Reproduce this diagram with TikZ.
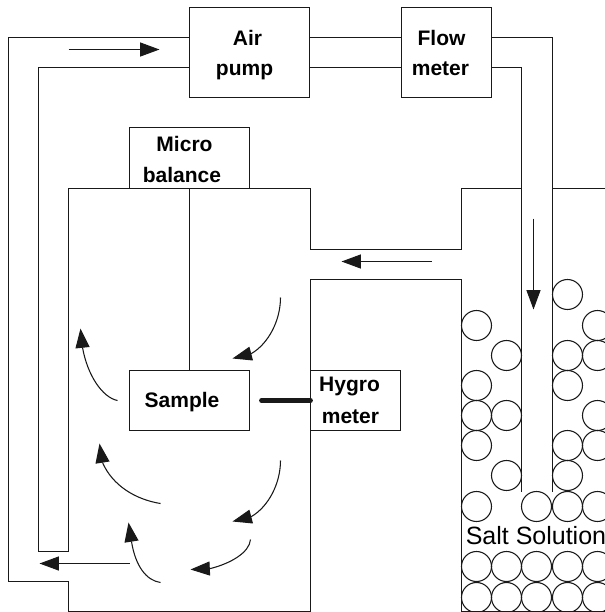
\documentclass[tikz,border=0pt]{standalone}
\usepackage{fontspec}
\setmainfont{Liberation Sans}
\usetikzlibrary{arrows.meta}
\definecolor{ink}{gray}{0.1}
\tikzset{
  x=0.75pt,y=-0.75pt,
  wall/.style={draw=ink,line width=0.8pt,line join=miter},
  boxnode/.style={draw=ink,line width=0.8pt,fill=white,inner sep=0pt,outer sep=0pt,anchor=north west},
  lab/.style={font=\fontsize{15.75pt}{18pt}\selectfont\bfseries,text=black,inner sep=0pt,anchor=base},
  flow/.style={draw=ink,line width=0.8pt,-{Triangle[length=14.5pt,width=10.5pt,fill=ink]}},
  bead/.style={circle,draw=ink,line width=0.8pt,minimum size=22.5pt,inner sep=0pt},
}
\begin{document}
\begin{tikzpicture}
\useasboundingbox (0,0) rectangle (605,612);
\begin{scope}
\clip (0,0) rectangle (605,612);
\begin{scope}[shift={(0.5,0.5)}]
% beads
\foreach \yy/\xs in {294/{567},325/{476,597},355/{506,567,597},385/{476,567},415/{476,506,597},445/{476,567,597},475/{506,567},506/{476,536,567,597},566/{476,506,536,567,597},597/{476,506,536,567,597}}{
  \foreach \xx in \xs { \node[bead] (b\xx-\yy) at (\xx,\yy) {}; }
}
% named points of the pipework
\coordinate (outerA) at (8,37);
\coordinate (outerB) at (8,581);
\coordinate (outerC) at (68,581);
\coordinate (outerD) at (68,611);
\coordinate (outerE) at (310,611);
\coordinate (outerF) at (310,279);
\coordinate (outerG) at (461,279);
\coordinate (outerH) at (461,611);
\coordinate (outerI) at (605,611);
\coordinate (innerA) at (38,67);
\coordinate (innerB) at (38,551);
\coordinate (innerC) at (68,551);
\coordinate (innerD) at (68,188);
\coordinate (innerE) at (310,188);
\coordinate (innerF) at (310,249);
\coordinate (innerG) at (461,249);
\coordinate (innerH) at (461,188);
\coordinate (innerI) at (521,188);
\coordinate (tubeLT) at (521,67);
\coordinate (tubeLB) at (521,491);
\coordinate (tubeRT) at (552,37);
\coordinate (tubeRB) at (552,491);
\coordinate (tubeRM) at (552,188);
\coordinate (rightM) at (605,188);
% boxes
\node[boxnode,minimum width=90pt,minimum height=67.5pt] (air) at (189,7) {};
\node[boxnode,minimum width=67.5pt,minimum height=67.5pt] (flowm) at (401,7) {};
\node[boxnode,minimum width=90pt,minimum height=45.75pt] (micro) at (129,127) {};
\node[boxnode,minimum width=90pt,minimum height=45pt] (sample) at (129,370) {};
\node[boxnode,minimum width=67.5pt,minimum height=45pt] (hygro) at (310,370) {};
% pipes
\draw[wall] (air.west |- outerA) -- (outerA) -- (outerB) -- (outerC) -- (outerD) -- (outerE) -- (outerF) -- (outerG) -- (outerH) -- (outerI);
\draw[wall] (air.west |- innerA) -- (innerA) -- (innerB) -- (innerC) -- (innerD) -- (innerE) -- (innerF) -- (innerG) -- (innerH) -- (innerI);
\draw[wall] (air.east |- outerA) -- (flowm.west |- outerA);
\draw[wall] (air.east |- innerA) -- (flowm.west |- innerA);
\draw[wall] (flowm.east |- tubeRT) -- (tubeRT) -- (tubeRB);
\draw[wall] (flowm.east |- tubeLT) -- (tubeLT) -- (tubeLB);
\draw[wall] (tubeRM) -- (rightM);
% balance rod and probe
\draw[wall] (micro.south) -- (sample.north);
\coordinate (probe) at (261,400);
\draw[draw=ink,line width=3.6pt,line cap=round] (probe) -- (hygro.west |- probe);
% labels
\node[lab] (t1) at (247,45) {Air};
\node[lab] (t2) at (244,75) {pump};
\node[lab] (t3) at (441,45) {Flow};
\node[lab] (t4) at (440,75) {meter};
\node[lab] (t5) at (184,151) {Micro};
\node[lab] (t6) at (181.5,181.5) {balance};
\node[lab] (t7) at (181.5,407) {Sample};
\node[lab] (t8) at (349,391) {Hygro};
\node[lab] (t9) at (350,422.5) {meter};
\node[font=\fontsize{18.75pt}{22pt}\selectfont,text=black,inner sep=0pt,anchor=base west] (salt) at (465,544) {Salt Solution};
% flow arrows
\coordinate (a1) at (68,49);   \coordinate (a2) at (159,49);
\coordinate (c1) at (431,261); \coordinate (c2) at (341,261);
\coordinate (d1) at (533,218); \coordinate (d2) at (533,309);
\coordinate (e1) at (129,563); \coordinate (e2) at (39,563);
\coordinate (f1) at (280,297); \coordinate (f3) at (251,353); \coordinate (f2) at (232,358);
\coordinate (g1) at (117,400); \coordinate (g3) at (82,347);  \coordinate (g2) at (80,328);
\coordinate (h1) at (160,503); \coordinate (h3) at (102,462); \coordinate (h2) at (99,443);
\coordinate (i1) at (280,460); \coordinate (i3) at (251,516); \coordinate (i2) at (232,521);
\coordinate (j1) at (250,539); \coordinate (j3) at (210,568); \coordinate (j2) at (190,569);
\coordinate (k1) at (160,582); \coordinate (k3) at (131,541); \coordinate (k2) at (128,522);
\draw[flow] (a1) -- (a2);
\draw[flow] (c1) -- (c2);
\draw[flow] (d1) -- (d2);
\draw[flow] (e1) -- (e2);
\draw[flow] (f1) .. controls (280,320) and (268,343) .. (f3) -- (f2);
\draw[flow] (g1) .. controls (102,397) and (87,375) .. (g3) -- (g2);
\draw[flow] (h1) .. controls (135,499) and (112,485) .. (h3) -- (h2);
\draw[flow] (i1) .. controls (280,483) and (268,506) .. (i3) -- (i2);
\draw[flow] (j1) .. controls (249,552) and (230,563) .. (j3) -- (j2);
\draw[flow] (k1) .. controls (146,580) and (135,566) .. (k3) -- (k2);
\end{scope}
\end{scope}
\end{tikzpicture}
\end{document}
